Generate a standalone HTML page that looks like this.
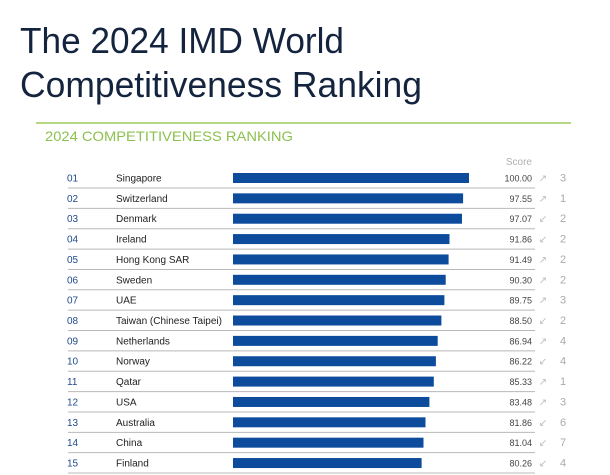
<!DOCTYPE html>
<html><head><meta charset="utf-8"><style>
html,body{margin:0;padding:0;background:#fff;}
svg{display:block;font-family:"Liberation Sans",sans-serif;}
.n{fill:#1f4a8c;font-size:10px}
.c{fill:#222;font-size:10px}
.b{fill:#0d4c9c}
.s{fill:#444;font-size:9px;text-anchor:end}
.a{fill:#bbb;font-size:10px;text-anchor:middle}
.r{fill:#aaa;font-size:11px;text-anchor:middle}
.l{stroke:#b8b8b8;stroke-width:1}
</style></head><body>
<svg width="610" height="475" viewBox="0 0 610 475" xmlns="http://www.w3.org/2000/svg">
<text x="20" y="53" font-size="36" fill="#14243f" textLength="324" lengthAdjust="spacingAndGlyphs">The 2024 IMD World</text>
<text x="20" y="97" font-size="36" fill="#14243f" textLength="402" lengthAdjust="spacingAndGlyphs">Competitiveness Ranking</text>
<line x1="36" y1="123" x2="571" y2="123" stroke="#9ccc5a" stroke-width="1.5"/>
<text x="45" y="141" font-size="14" fill="#8cc14f" textLength="248" lengthAdjust="spacingAndGlyphs">2024 COMPETITIVENESS RANKING</text>
<text x="532" y="165" font-size="10" fill="#b0b0b0" text-anchor="end">Score</text>

<g transform="translate(0,178)"><text class="n" x="67" y="3.5">01</text><text class="c" x="116" y="3.5">Singapore</text><rect class="b" x="233" y="-5" width="236" height="10"/><text class="s" x="532" y="3.5">100.00</text><text class="a" x="543" y="3.5">↗</text><text class="r" x="563" y="3.5">3</text><line class="l" x1="68" y1="10" x2="535" y2="10"/></g>
<g transform="translate(0,198.36)"><text class="n" x="67" y="3.5">02</text><text class="c" x="116" y="3.5">Switzerland</text><rect class="b" x="233" y="-5" width="230.1" height="10"/><text class="s" x="532" y="3.5">97.55</text><text class="a" x="543" y="3.5">↗</text><text class="r" x="563" y="3.5">1</text><line class="l" x1="68" y1="10" x2="535" y2="10"/></g>
<g transform="translate(0,218.72)"><text class="n" x="67" y="3.5">03</text><text class="c" x="116" y="3.5">Denmark</text><rect class="b" x="233" y="-5" width="229" height="10"/><text class="s" x="532" y="3.5">97.07</text><text class="a" x="543" y="3.5">↙</text><text class="r" x="563" y="3.5">2</text><line class="l" x1="68" y1="10" x2="535" y2="10"/></g>
<g transform="translate(0,239.08)"><text class="n" x="67" y="3.5">04</text><text class="c" x="116" y="3.5">Ireland</text><rect class="b" x="233" y="-5" width="216.5" height="10"/><text class="s" x="532" y="3.5">91.86</text><text class="a" x="543" y="3.5">↙</text><text class="r" x="563" y="3.5">2</text><line class="l" x1="68" y1="10" x2="535" y2="10"/></g>
<g transform="translate(0,259.44)"><text class="n" x="67" y="3.5">05</text><text class="c" x="116" y="3.5">Hong Kong SAR</text><rect class="b" x="233" y="-5" width="215.6" height="10"/><text class="s" x="532" y="3.5">91.49</text><text class="a" x="543" y="3.5">↗</text><text class="r" x="563" y="3.5">2</text><line class="l" x1="68" y1="10" x2="535" y2="10"/></g>
<g transform="translate(0,279.8)"><text class="n" x="67" y="3.5">06</text><text class="c" x="116" y="3.5">Sweden</text><rect class="b" x="233" y="-5" width="212.7" height="10"/><text class="s" x="532" y="3.5">90.30</text><text class="a" x="543" y="3.5">↗</text><text class="r" x="563" y="3.5">2</text><line class="l" x1="68" y1="10" x2="535" y2="10"/></g>
<g transform="translate(0,300.16)"><text class="n" x="67" y="3.5">07</text><text class="c" x="116" y="3.5">UAE</text><rect class="b" x="233" y="-5" width="211.4" height="10"/><text class="s" x="532" y="3.5">89.75</text><text class="a" x="543" y="3.5">↗</text><text class="r" x="563" y="3.5">3</text><line class="l" x1="68" y1="10" x2="535" y2="10"/></g>
<g transform="translate(0,320.52)"><text class="n" x="67" y="3.5">08</text><text class="c" x="116" y="3.5">Taiwan (Chinese Taipei)</text><rect class="b" x="233" y="-5" width="208.4" height="10"/><text class="s" x="532" y="3.5">88.50</text><text class="a" x="543" y="3.5">↙</text><text class="r" x="563" y="3.5">2</text><line class="l" x1="68" y1="10" x2="535" y2="10"/></g>
<g transform="translate(0,340.88)"><text class="n" x="67" y="3.5">09</text><text class="c" x="116" y="3.5">Netherlands</text><rect class="b" x="233" y="-5" width="204.7" height="10"/><text class="s" x="532" y="3.5">86.94</text><text class="a" x="543" y="3.5">↗</text><text class="r" x="563" y="3.5">4</text><line class="l" x1="68" y1="10" x2="535" y2="10"/></g>
<g transform="translate(0,361.24)"><text class="n" x="67" y="3.5">10</text><text class="c" x="116" y="3.5">Norway</text><rect class="b" x="233" y="-5" width="202.9" height="10"/><text class="s" x="532" y="3.5">86.22</text><text class="a" x="543" y="3.5">↙</text><text class="r" x="563" y="3.5">4</text><line class="l" x1="68" y1="10" x2="535" y2="10"/></g>
<g transform="translate(0,381.6)"><text class="n" x="67" y="3.5">11</text><text class="c" x="116" y="3.5">Qatar</text><rect class="b" x="233" y="-5" width="200.8" height="10"/><text class="s" x="532" y="3.5">85.33</text><text class="a" x="543" y="3.5">↗</text><text class="r" x="563" y="3.5">1</text><line class="l" x1="68" y1="10" x2="535" y2="10"/></g>
<g transform="translate(0,401.96)"><text class="n" x="67" y="3.5">12</text><text class="c" x="116" y="3.5">USA</text><rect class="b" x="233" y="-5" width="196.4" height="10"/><text class="s" x="532" y="3.5">83.48</text><text class="a" x="543" y="3.5">↗</text><text class="r" x="563" y="3.5">3</text><line class="l" x1="68" y1="10" x2="535" y2="10"/></g>
<g transform="translate(0,422.32)"><text class="n" x="67" y="3.5">13</text><text class="c" x="116" y="3.5">Australia</text><rect class="b" x="233" y="-5" width="192.5" height="10"/><text class="s" x="532" y="3.5">81.86</text><text class="a" x="543" y="3.5">↙</text><text class="r" x="563" y="3.5">6</text><line class="l" x1="68" y1="10" x2="535" y2="10"/></g>
<g transform="translate(0,442.68)"><text class="n" x="67" y="3.5">14</text><text class="c" x="116" y="3.5">China</text><rect class="b" x="233" y="-5" width="190.5" height="10"/><text class="s" x="532" y="3.5">81.04</text><text class="a" x="543" y="3.5">↙</text><text class="r" x="563" y="3.5">7</text><line class="l" x1="68" y1="10" x2="535" y2="10"/></g>
<g transform="translate(0,463.04)"><text class="n" x="67" y="3.5">15</text><text class="c" x="116" y="3.5">Finland</text><rect class="b" x="233" y="-5" width="188.6" height="10"/><text class="s" x="532" y="3.5">80.26</text><text class="a" x="543" y="3.5">↙</text><text class="r" x="563" y="3.5">4</text><line class="l" x1="68" y1="10" x2="535" y2="10"/></g>
</svg>
</body></html>
